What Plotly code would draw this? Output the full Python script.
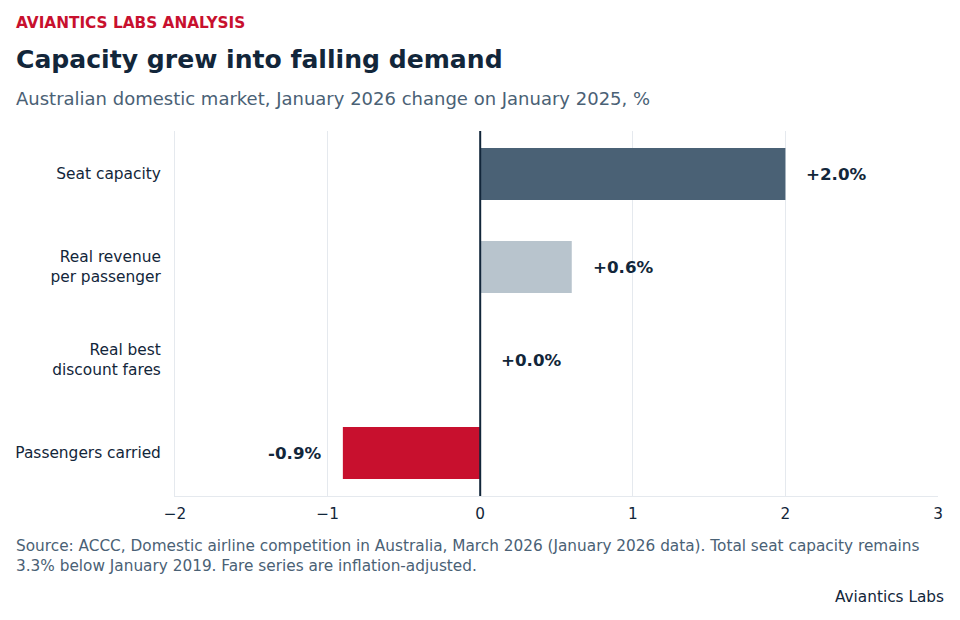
import plotly.graph_objects as go

categories = ["Seat capacity", "Real revenue<br>per passenger", "Real best<br>discount fares", "Passengers carried"]
values = [2.0, 0.6, 0.0, -0.9]
labels = ["+2.0%", "+0.6%", "+0.0%", "-0.9%"]
colors = ["#4a6175", "#b8c4cd", "#b8c4cd", "#c8102e"]
x_ticks = [-2, -1, 0, 1, 2, 3]
x_tick_text = ["\u22122", "\u22121", "0", "1", "2", "3"]

FONT = "DejaVu Sans"
NAVY = "#12263a"
SLATE = "#4a6175"

# margins (page offset of 8px from the body margin accounted for)
L, R, T, B = 167, 30, 123, 132

fig = go.Figure()
fig.add_trace(go.Bar(
    x=values, y=categories, orientation="h",
    marker=dict(color=colors, line=dict(width=0)),
    width=0.56, hoverinfo="skip",
))

for v, c, lab in zip(values, categories, labels):
    neg = v < 0
    fig.add_annotation(
        x=v, y=c, text="<b>" + lab + "</b>", showarrow=False,
        xanchor="right" if neg else "left", xshift=-20 if neg else 19,
        font=dict(family=FONT, size=16.7, color=NAVY),
    )

fig.add_shape(type="line", x0=0, x1=0, y0=0, y1=1, yref="paper",
              line=dict(color=NAVY, width=2))

fig.update_layout(
    width=960, height=620,
    margin=dict(l=L, r=R, t=T, b=B, autoexpand=False),
    paper_bgcolor="white", plot_bgcolor="white",
    font=dict(family=FONT, color=NAVY, size=15),
    showlegend=False,
)
fig.update_xaxes(
    range=[-2, 3], tickvals=x_ticks, ticktext=x_tick_text,
    showgrid=True, gridcolor="#e5e9ee", gridwidth=1,
    zeroline=False, showline=True, linecolor="#e5e9ee",
    tickfont=dict(size=15.3, color=NAVY), ticks="", ticklabelstandoff=4,
    automargin=False,
)
fig.update_yaxes(
    categoryorder="array", categoryarray=categories[::-1],
    range=[-0.463, 3.463], automargin=False,
    showgrid=False, zeroline=False, showline=True, linecolor="#e5e9ee",
    tickfont=dict(size=15.4, color=NAVY), ticks="outside", ticklen=10, tickcolor="white",
)

header = [
    ("<b>AVIANTICS LABS ANALYSIS</b>", 15, 15.3, "#c8102e"),
    ("<b>Capacity grew into falling demand</b>", 51, 25.1, NAVY),
    ("Australian domestic market, January 2026 change on January 2025, %", 90, 18, SLATE),
]
for text, ypix, size, color in header:
    fig.add_annotation(
        x=0, y=1, xref="paper", yref="paper", xanchor="left", yanchor="middle",
        xshift=6 - L, yshift=T - ypix, text=text, showarrow=False,
        font=dict(family=FONT, size=size, color=color), align="left",
    )

fig.add_annotation(
    x=0, y=0, xref="paper", yref="paper", xanchor="left", yanchor="top",
    xshift=6 - L, yshift=-(527 - (620 - B)),
    text="Source: ACCC, Domestic airline competition in Australia, March 2026 (January 2026 data). Total seat capacity remains<br>3.3% below January 2019. Fare series are inflation-adjusted.",
    showarrow=False, align="left",
    font=dict(family=FONT, size=15.3, color=SLATE),
)
fig.add_annotation(
    x=1, y=0, xref="paper", yref="paper", xanchor="right", yanchor="middle",
    xshift=8, yshift=-(589 - (620 - B)), text="Aviantics Labs", showarrow=False,
    font=dict(family=FONT, size=15.3, color=NAVY),
)

fig.write_html("out.html")
